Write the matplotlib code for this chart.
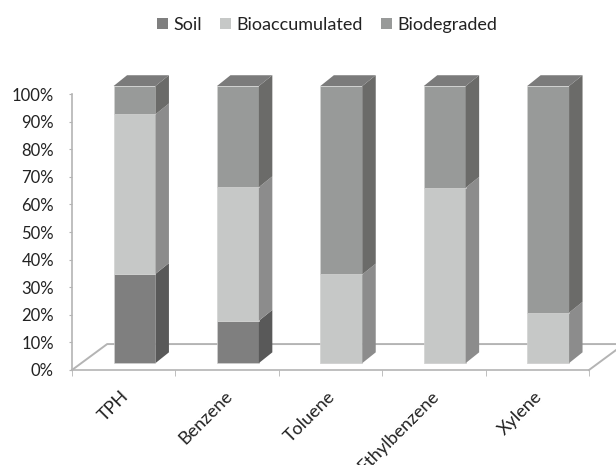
import matplotlib
matplotlib.use('Agg')
from matplotlib import pyplot as plt
from matplotlib.patches import Patch, Polygon
import numpy as np

categories = ['TPH', 'Benzene', 'Toluene', 'Ethylbenzene', 'Xylene']
soil = [32.2, 15.3, 0.0, 0.0, 0.0]
bioaccumulated = [57.6, 48.2, 32.0, 63.3, 18.2]
biodegraded = [10.2, 36.5, 68.0, 36.7, 81.8]
series_names = ['Soil', 'Bioaccumulated', 'Biodegraded']

front_colors = ['#7f7f7f', '#c6c8c7', '#989a99']
side_colors = ['#595959', '#8c8c8c', '#6b6b69']
top_color = '#7b7b7b'

plt.rcParams['font.family'] = ['Lato', 'DejaVu Sans']

W, H = 616, 465
fig = plt.figure(figsize=(W / 100, H / 100), dpi=100)
ax = fig.add_axes([72 / W, 1 - 370 / H, 517 / W, 276 / H])
ax.set_xlim(0, 5)
ax.set_ylim(0, 100)

# fake 3D: depth offsets in data units
dx, dy = 0.13, 3.9
floor_dx, floor_dy = 0.34, 9.4
base = 2.5
stretch = 1.004
width = 0.405
grey = '#b4b4b4'

# floor
ax.plot([0, floor_dx, 5 + floor_dx, 5], [0, floor_dy, floor_dy, 0], color=grey, lw=1.4, clip_on=False, zorder=1)

x = np.arange(5) + 0.605
bottom = np.full(5, base)
for vals, fc, sc in zip([soil, bioaccumulated, biodegraded], front_colors, side_colors):
	vals = np.array(vals) * stretch
	ax.bar(x, vals, width, bottom=bottom, color=fc, edgecolor='#d2d2d2', linewidth=0.5, clip_on=False, zorder=3)
	for xi, b, v in zip(x, bottom, vals):
		if v == 0:
			continue
		r = xi + width / 2
		side = [(r, b), (r + dx, b + dy), (r + dx, b + v + dy), (r, b + v)]
		ax.add_patch(Polygon(side, facecolor=sc, edgecolor='none', clip_on=False, zorder=3))
	bottom = bottom + vals

# top faces
for xi, t in zip(x, bottom):
	l, r = xi - width / 2, xi + width / 2
	ax.add_patch(Polygon([(l, t), (l + dx, t + dy), (r + dx, t + dy), (r, t)], facecolor=top_color, edgecolor='none', clip_on=False, zorder=3))

for s in ['top', 'right']:
	ax.spines[s].set_visible(False)
for s in ['left', 'bottom']:
	ax.spines[s].set_color(grey)
	ax.spines[s].set_linewidth(1.2)

ax.set_yticks(np.arange(0, 101, 10))
ax.set_yticklabels(['%d%%' % v for v in range(0, 101, 10)], fontsize=12, color='#222222')
ax.tick_params(axis='y', length=2.5, color=grey, pad=10.5)

ax.set_xticks(np.arange(6), minor=True)
ax.tick_params(axis='x', which='minor', length=4, color=grey)
ax.set_xticks(np.arange(5) + 0.47)
ax.set_xticklabels(categories, rotation=45, ha='right', va='top', rotation_mode='anchor', fontsize=13, color='#222222')
ax.tick_params(axis='x', which='major', length=0, pad=13)

handles = [Patch(facecolor=c, edgecolor='none') for c in front_colors]
fig.legend(handles, series_names, ncol=3, loc='center', bbox_to_anchor=(327 / W, 1 - 25 / H), frameon=False,
	fontsize=13, handlelength=0.61, handleheight=0.61, handletextpad=0.3, columnspacing=1.02, labelcolor='#222222')

fig.savefig('out.png', dpi=100)
